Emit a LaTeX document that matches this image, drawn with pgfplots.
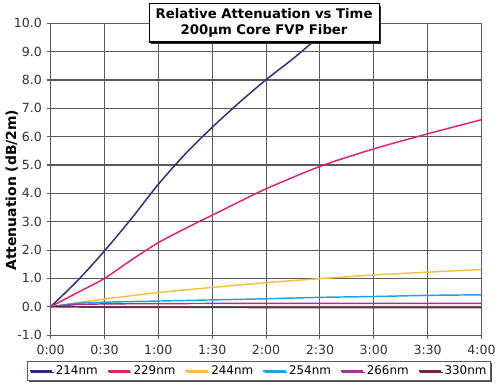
\documentclass[border=0pt]{standalone}
\usepackage{fontspec}
\setmainfont{DejaVu Sans}
\usepackage{pgfplots}
\pgfplotsset{compat=1.18}
\usetikzlibrary{shadows}
\definecolor{c214}{RGB}{45,42,122}
\definecolor{c229}{RGB}{224,32,110}
\definecolor{c244}{RGB}{245,192,64}
\definecolor{c254}{RGB}{27,163,223}
\definecolor{c266}{RGB}{160,48,154}
\definecolor{c330}{RGB}{123,32,64}
\definecolor{gridc}{RGB}{90,90,90}
\begin{document}
\begin{tikzpicture}
\begin{axis}[
  at={(0,0)}, anchor=south west,
  scale only axis,
  width=325.5pt, height=235.5pt,
  xmin=0, xmax=4, ymin=-1, ymax=10,
  xtick={0,0.5,1,1.5,2,2.5,3,3.5,4},
  xticklabels={0:00,0:30,1:00,1:30,2:00,2:30,3:00,3:30,4:00},
  ytick={-1,0,1,2,3,4,5,6,7,8,9,10},
  yticklabel style={/pgf/number format/.cd, fixed, fixed zerofill, precision=1},
  /pgf/number format/assume math mode=true,
  tick label style={font=\fontsize{9.5}{11}\selectfont, text=black!80},
  xticklabel style={yshift=-1pt},
  tick align=outside, tick pos=left,
  major tick length=3pt,
  every tick/.style={draw=gridc, line width=0.8pt},
  grid=major,
  major grid style={draw=gridc, line width=0.8pt},
  axis line style={draw=gridc, line width=0.8pt},
  ylabel={\textbf{Attenuation (dB/2m)}},
  every axis y label/.style={at={(axis description cs:-0.09,0.465)}, rotate=90, anchor=center, font=\fontsize{10.5}{12}\selectfont},
  legend columns=6,
  legend style={at={(rel axis cs:0.484,-0.116)}, anchor=center, draw=gridc, line width=0.6pt,
    fill=white, font=\fontsize{9}{10.5}\selectfont, inner sep=1pt,
    drop shadow={shadow xshift=1pt, shadow yshift=-1pt, opacity=1, fill=black!70},
    /tikz/every even column/.append style={column sep=5pt}},
  legend image code/.code={\draw[#1, line width=1.1pt] (0pt,0pt) -- (17pt,0pt);},
  every axis plot/.append style={line width=1.1pt},
]
\addplot[c214, smooth] coordinates {(0,0) (0.25,0.92) (0.5,1.97) (0.75,3.11) (1,4.32) (1.25,5.39) (1.5,6.33) (1.75,7.2) (2,8.01) (2.25,8.75) (2.5,9.55) (2.75,10.3) (3,11.0)};
\addlegendentry{214nm}
\addplot[c229, smooth] coordinates {(0,0) (0.25,0.5) (0.5,1.0) (0.75,1.65) (1,2.26) (1.25,2.76) (1.5,3.23) (1.75,3.7) (2,4.16) (2.5,4.95) (3,5.57) (3.5,6.1) (4,6.6)};
\addlegendentry{229nm}
\addplot[c244, smooth] coordinates {(0,0) (0.25,0.14) (0.5,0.27) (1,0.5) (1.5,0.68) (2,0.85) (2.5,0.99) (3,1.12) (3.5,1.22) (4,1.31)};
\addlegendentry{244nm}
\addplot[c254, smooth] coordinates {(0,0) (0.25,0.12) (0.5,0.16) (1,0.2) (1.5,0.24) (2,0.28) (2.5,0.33) (3,0.36) (3.5,0.4) (4,0.42)};
\addlegendentry{254nm}
\addplot[c266] coordinates {(0,0) (0.25,0.08) (0.5,0.1) (1,0.11) (2,0.12) (3,0.12) (4,0.12)};
\addlegendentry{266nm}
\addplot[c330] coordinates {(0,0) (0.5,-0.02) (1,-0.02) (2,-0.03) (3,-0.03) (4,-0.03)};
\addlegendentry{330nm}
\end{axis}
\node[draw=black, line width=0.8pt, fill=white, align=center, inner xsep=5pt, inner ysep=3pt,
  minimum width=172pt, minimum height=29pt,
  font=\bfseries\fontsize{10}{12.5}\selectfont,
  drop shadow={shadow xshift=1.5pt, shadow yshift=-1.5pt, opacity=1, fill=black!80}]
  at (161.25pt,235.9pt) {Relative Attenuation vs Time\\200µm Core FVP Fiber};
\path[use as bounding box] (-38.25pt,-37.125pt) rectangle (336.75pt,253.125pt);
\end{tikzpicture}
\end{document}
